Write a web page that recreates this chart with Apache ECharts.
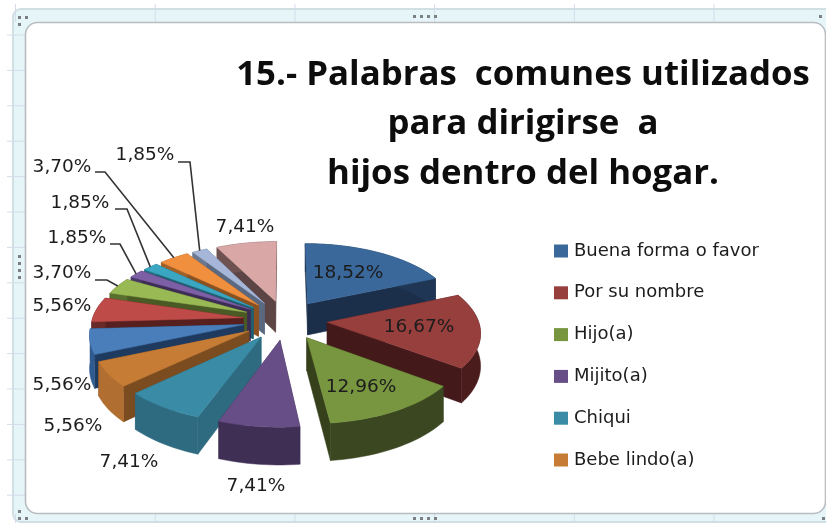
<!DOCTYPE html>
<html>
<head>
<meta charset="utf-8">
<style>html,body{margin:0;padding:0;background:#fff}#c{width:826px;height:523px}</style>
<script src="https://cdn.jsdelivr.net/npm/echarts@6/dist/echarts.min.js"></script>
</head>
<body>
<div id="c"></div>
<script>
// ---- data ----
const titleLines = ['15.- Palabras  comunes utilizados', 'para dirigirse  a', 'hijos dentro del hogar.'];
const legendNames = ['Buena forma o favor', 'Por su nombre', 'Hijo(a)', 'Mijito(a)', 'Chiqui', 'Bebe lindo(a)'];
const values = [18.52, 16.67, 12.96, 7.41, 7.41, 5.56, 5.56, 5.56, 3.70, 1.85, 1.85, 3.70, 1.85, 7.41];

// ---- styles ----
const topColors  = ['#3a689b','#973f3d','#78963f','#674e86','#3a8ba5','#c77c36','#4a7ebb','#be4b48','#98b954','#7d5fa6','#3aa6c2','#f08f3e','#a5b6d8','#d9a7a6'];
const cutColors  = ['#1b2f4a','#44191a','#36411c','#3c2d50','#2e6b80','#7a4c20','#1f3a5f','#571f1e','#4a5a25','#3d2c55','#1f5f70','#8a5220','#5a6880','#5e4545'];
const wallColors = ['#1f3654','#4a1c1c','#3a4720','#3f2f54','#2e6b80','#b06e30','#2f5a90','#6a2a28','#5a6e2e','#4a3868','#236f82','#a06028','#6a7890','#6e5252'];
// label centre in pixels, in data order
const labelPos = [[348,273],[419,327],[361,387],[256,486],[129,462],[73,426],[62,385],[62,306],[62,273],[77,238],[80,203],[62,167],[145,155],[245,227]];
// leader elbows [startX, elbowX, y] for the labels that have one
const leaders = {8:[95,107,280], 9:[110,120,244], 10:[115,127,209], 11:[95,105,172], 12:[178,190,162]};

// ---- pie projection ----
const CX = 285, CY = 320, S = 151, TILT = 0.47, PERSP = 0.12, EXPLODE = 0.28, DEPTH = 32;
const total = values.reduce((a, b) => a + b, 0);
const rad = d => d * Math.PI / 180;
function project(deg, mid, r, down) {
  const X = EXPLODE * Math.sin(rad(mid)) + r * Math.sin(rad(deg));
  const F = -EXPLODE * Math.cos(rad(mid)) - r * Math.cos(rad(deg));
  const w = 1 - PERSP * F;
  return [CX + S * X / w, CY + (S * TILT * F + (down ? DEPTH : 0)) / w];
}
const starts = [];
values.reduce((acc, v, i) => { starts[i] = acc; return acc + v; }, 0);

function renderSlice(i) {
  return function (params, api) {
    const v = api.value(0);
    const a0 = starts[i] / total * 360, a1 = a0 + v / total * 360, mid = (a0 + a1) / 2;
    const top = [], bottom = [];
    const n = Math.max(2, Math.ceil((a1 - a0) / 2));
    for (let k = 0; k <= n; k++) {
      const d = a0 + (a1 - a0) * k / n;
      top.push(project(d, mid, 1, false));
      bottom.push(project(d, mid, 1, true));
    }
    const apex = project(a0, mid, 0, false), apexB = project(a0, mid, 0, true);
    const poly = (points, fill) => ({ type: 'polygon', shape: { points }, style: { fill, stroke: fill, lineWidth: 0.5 } });
    const children = [
      poly([apex, top[0], bottom[0], apexB], cutColors[i]),
      poly([apex, top[n], bottom[n], apexB], cutColors[i]),
      poly(top.concat(bottom.slice().reverse()), wallColors[i]),
      poly([apex].concat(top), topColors[i])
    ];
    return { type: 'group', children };
  };
}

function renderLabels(params, api) {
  const i = params.dataIndex, v = api.value(0);
  const a0 = starts[i] / total * 360, a1 = a0 + v / total * 360, mid = (a0 + a1) / 2;
  const children = [];
  if (leaders[i]) {
    const L = leaders[i], end = project(mid, mid, 1, false);
    children.push({ type: 'polyline', shape: { points: [[L[0], L[2]], [L[1], L[2]], end] },
      style: { stroke: '#333333', lineWidth: 1.6, fill: null } });
  }
  children.push({ type: 'text', style: {
    x: labelPos[i][0], y: labelPos[i][1], text: v.toFixed(2).replace('.', ',') + '%',
    fill: '#1c1c1c', font: '18.5px "DejaVu Sans"', align: 'center', verticalAlign: 'middle' } });
  return { type: 'group', children };
}

// painter's order: slices nearest the viewer are drawn last
const midFront = values.map((v, i) => -Math.cos(rad((starts[i] + v / 2) / total * 360)));
const rank = midFront.map((f, i) => midFront.filter(o => o < f).length);

const series = values.map((v, i) => ({
  type: 'custom', name: legendNames[i], coordinateSystem: 'none',
  z: 3 + rank[i], silent: true, animation: false,
  itemStyle: { color: topColors[i] },
  renderItem: renderSlice(i), data: [[v]]
}));
series.push({
  type: 'custom', name: 'etiquetas', coordinateSystem: 'none', z: 40, silent: true, animation: false,
  renderItem: renderLabels, data: values.map(v => [v])
});

// ---- sheet frame ----
const frame = [
  { type: 'rect', z: 0, shape: { x: 13, y: 9, width: 830, height: 513, r: 8 }, style: { fill: '#e6f5f8', stroke: '#cfdfe4', lineWidth: 2 } },
  { type: 'rect', z: 1, shape: { x: 25.5, y: 22.5, width: 830 - 30, height: 491, r: 12 }, style: { fill: '#ffffff', stroke: '#b9bdbf', lineWidth: 1.6 } }
];
for (let y = 35; y < 520; y += 35.4) frame.push({ type: 'line', z: 0, shape: { x1: 7, y1: y, x2: 25, y2: y }, style: { stroke: '#d4dcea', lineWidth: 1 } });
for (let x = 15.5; x < 826; x += 139.7) {
  frame.push({ type: 'line', z: 0, shape: { x1: x, y1: 4, x2: x, y2: 22 }, style: { stroke: '#d4dcea', lineWidth: 1 } });
  frame.push({ type: 'line', z: 0, shape: { x1: x, y1: 514, x2: x, y2: 523 }, style: { stroke: '#d4dcea', lineWidth: 1 } });
}
const dot = (x, y) => frame.push({ type: 'rect', z: 2, shape: { x, y, width: 3, height: 3 }, style: { fill: '#7c7f82' } });
[[413,15],[420,15],[427,15],[434,15],[413,517],[420,517],[427,517],[434,517],[18,255],[18,262],[18,269],[18,276],[18,16],[25,16],[18,23],[819,15],[822,517],[18,517],[25,517],[18,510]].forEach(p => dot(p[0], p[1]));

const chart = echarts.init(document.getElementById('c'), null, { renderer: 'canvas' });
chart.setOption({
  animation: false,
  backgroundColor: '#ffffff',
  title: {
    text: titleLines.join('\n'), left: 518, top: 45, textAlign: 'center', z: 30,
    textStyle: { fontFamily: '"Open Sans"', fontWeight: 'bold', fontSize: 34.8, lineHeight: 49.5, color: '#0d0d0d' }
  },
  legend: {
    data: legendNames, orient: 'vertical', left: 549, top: 237, icon: 'rect', selectedMode: false,
    itemWidth: 14, itemHeight: 13, itemGap: 23.8, z: 30,
    textStyle: { fontFamily: '"DejaVu Sans"', fontSize: 18, color: '#1c1c1c', padding: [0, 0, 0, 1], lineHeight: 17 }
  },
  graphic: frame,
  series
});
</script>
</body>
</html>
